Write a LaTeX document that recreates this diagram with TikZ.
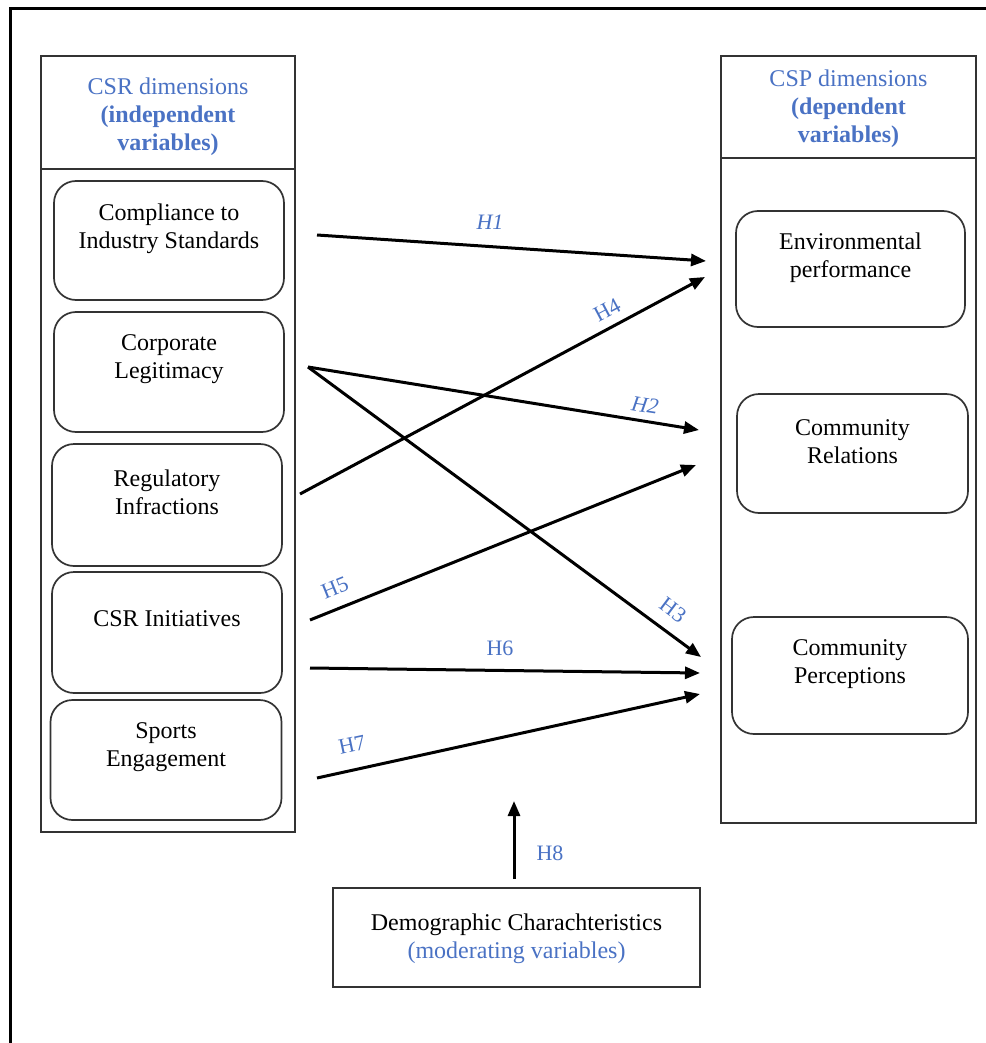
\documentclass[tikz,border=0pt]{standalone}
\usepackage{fontspec}
\setmainfont{Liberation Serif}
\usetikzlibrary{arrows.meta}
\definecolor{hblue}{HTML}{4A72C4}
\definecolor{boxgray}{HTML}{333333}
\begin{document}
\begin{tikzpicture}[x=1pt,y=-1pt,
  panel/.style={draw=boxgray,line width=1.9pt,inner sep=0pt},
  item/.style={draw=boxgray,line width=1.7pt,rounded corners=22pt,inner sep=0pt},
  txt/.style={align=center,font=\fontsize{24}{28}\selectfont,inner sep=0pt},
  htxt/.style={txt,text=hblue},
  hyp/.style={text=hblue,font=\fontsize{22}{26}\selectfont,inner sep=0pt},
  link/.style={line width=3pt,-{Triangle[length=15pt,width=12pt]}},
]
\useasboundingbox (0,0) rectangle (985,1043);
\fill[white] (0,0) rectangle (985,1043);
\draw[line width=3pt] (10,1050) -- (10,9) -- (990,9);

% left panel
\node[panel,minimum width=254pt,minimum height=776pt] (L) at (168,444) {};
\node[panel,minimum width=254pt,minimum height=113pt] (Lh) at (168,112.5) {};
\node[htxt] (Lht) at (168,117) {CSR dimensions\\\textbf{(independent}\\\textbf{variables)}};

% right panel
\node[panel,minimum width=255pt,minimum height=767pt] (R) at (848.5,439.5) {};
\node[panel,minimum width=255pt,minimum height=102pt] (Rh) at (848.5,107) {};
\node[htxt] (Rht) at (848.5,109) {CSP dimensions\\\textbf{(dependent}\\\textbf{variables)}};

% left items
\node[item,minimum width=230pt,minimum height=119pt] (b1) at (169,240.5) {};
\node[item,minimum width=230pt,minimum height=120pt] (b2) at (169,372) {};
\node[item,minimum width=230pt,minimum height=122pt] (b3) at (167,505) {};
\node[item,minimum width=230pt,minimum height=121pt] (b4) at (167,632.5) {};
\node[item,minimum width=231pt,minimum height=120pt] (b5) at (166,760) {};
\node[txt] (t1) at (169,229) {Compliance to\\Industry Standards};
\node[txt] (t2) at (169,359.5) {Corporate\\Legitimacy};
\node[txt] (t3) at (167,492.5) {Regulatory\\Infractions};
\node[txt] (t4) at (167,619) {CSR Initiatives};
\node[txt] (t5) at (166,747) {Sports\\Engagement};

% right items
\node[item,minimum width=229pt,minimum height=116pt] (e1) at (850.5,269) {};
\node[item,minimum width=231pt,minimum height=119pt] (e2) at (852.5,453.5) {};
\node[item,minimum width=236pt,minimum height=117pt] (e3) at (850,675.5) {};
\node[txt] (s1) at (850.5,258) {Environmental\\performance};
\node[txt] (s2) at (852.5,442) {Community\\Relations};
\node[txt] (s3) at (850,664) {Community\\Perceptions};

% moderator
\node[panel,minimum width=367pt,minimum height=99pt] (D) at (516.5,937.5) {};
\node[txt] (Dt) at (516.5,938.5) {Demographic Charachteristics\\\textcolor{hblue}{(moderating variables)}};

% arrow end points
\coordinate (a1s) at (317,235);  \coordinate (a1e) at (706,261);
\coordinate (a2s) at (308,367);  \coordinate (a2e) at (699,430);
\coordinate (a3e) at (701,657);
\coordinate (a4s) at (300,494);  \coordinate (a4e) at (705,277);
\coordinate (a5s) at (310,620);  \coordinate (a5e) at (696,465);
\coordinate (a6s) at (310,668);  \coordinate (a6e) at (700,673);
\coordinate (a7s) at (317,778);  \coordinate (a7e) at (700,694);
\coordinate (a8e) at (514,801);
\coordinate (a8s) at (514,879);

\draw[link] (a1s) -- (a1e);
\draw[link] (a2s) -- (a2e);
\draw[link] (a2s) -- (a3e);
\draw[link] (a4s) -- (a4e);
\draw[link] (a5s) -- (a5e);
\draw[link] (a6s) -- (a6e);
\draw[link] (a7s) -- (a7e);
\draw[link] (a8s) -- (a8e);

% hypothesis labels
\node[hyp,font=\fontsize{22}{26}\selectfont\itshape] (h1) at (490,222) {H1};
\node[hyp,font=\fontsize{22}{26}\selectfont\itshape,rotate=-9] (h2) at (645,405) {H2};
\node[hyp,rotate=-37] (h3) at (673,610) {H3};
\node[hyp,rotate=28] (h4) at (607,310) {H4};
\node[hyp,rotate=22] (h5) at (335,588) {H5};
\node[hyp] (h6) at (500,648) {H6};
\node[hyp,rotate=12] (h7) at (352,745) {H7};
\node[hyp] (h8) at (550,853) {H8};
\end{tikzpicture}
\end{document}
